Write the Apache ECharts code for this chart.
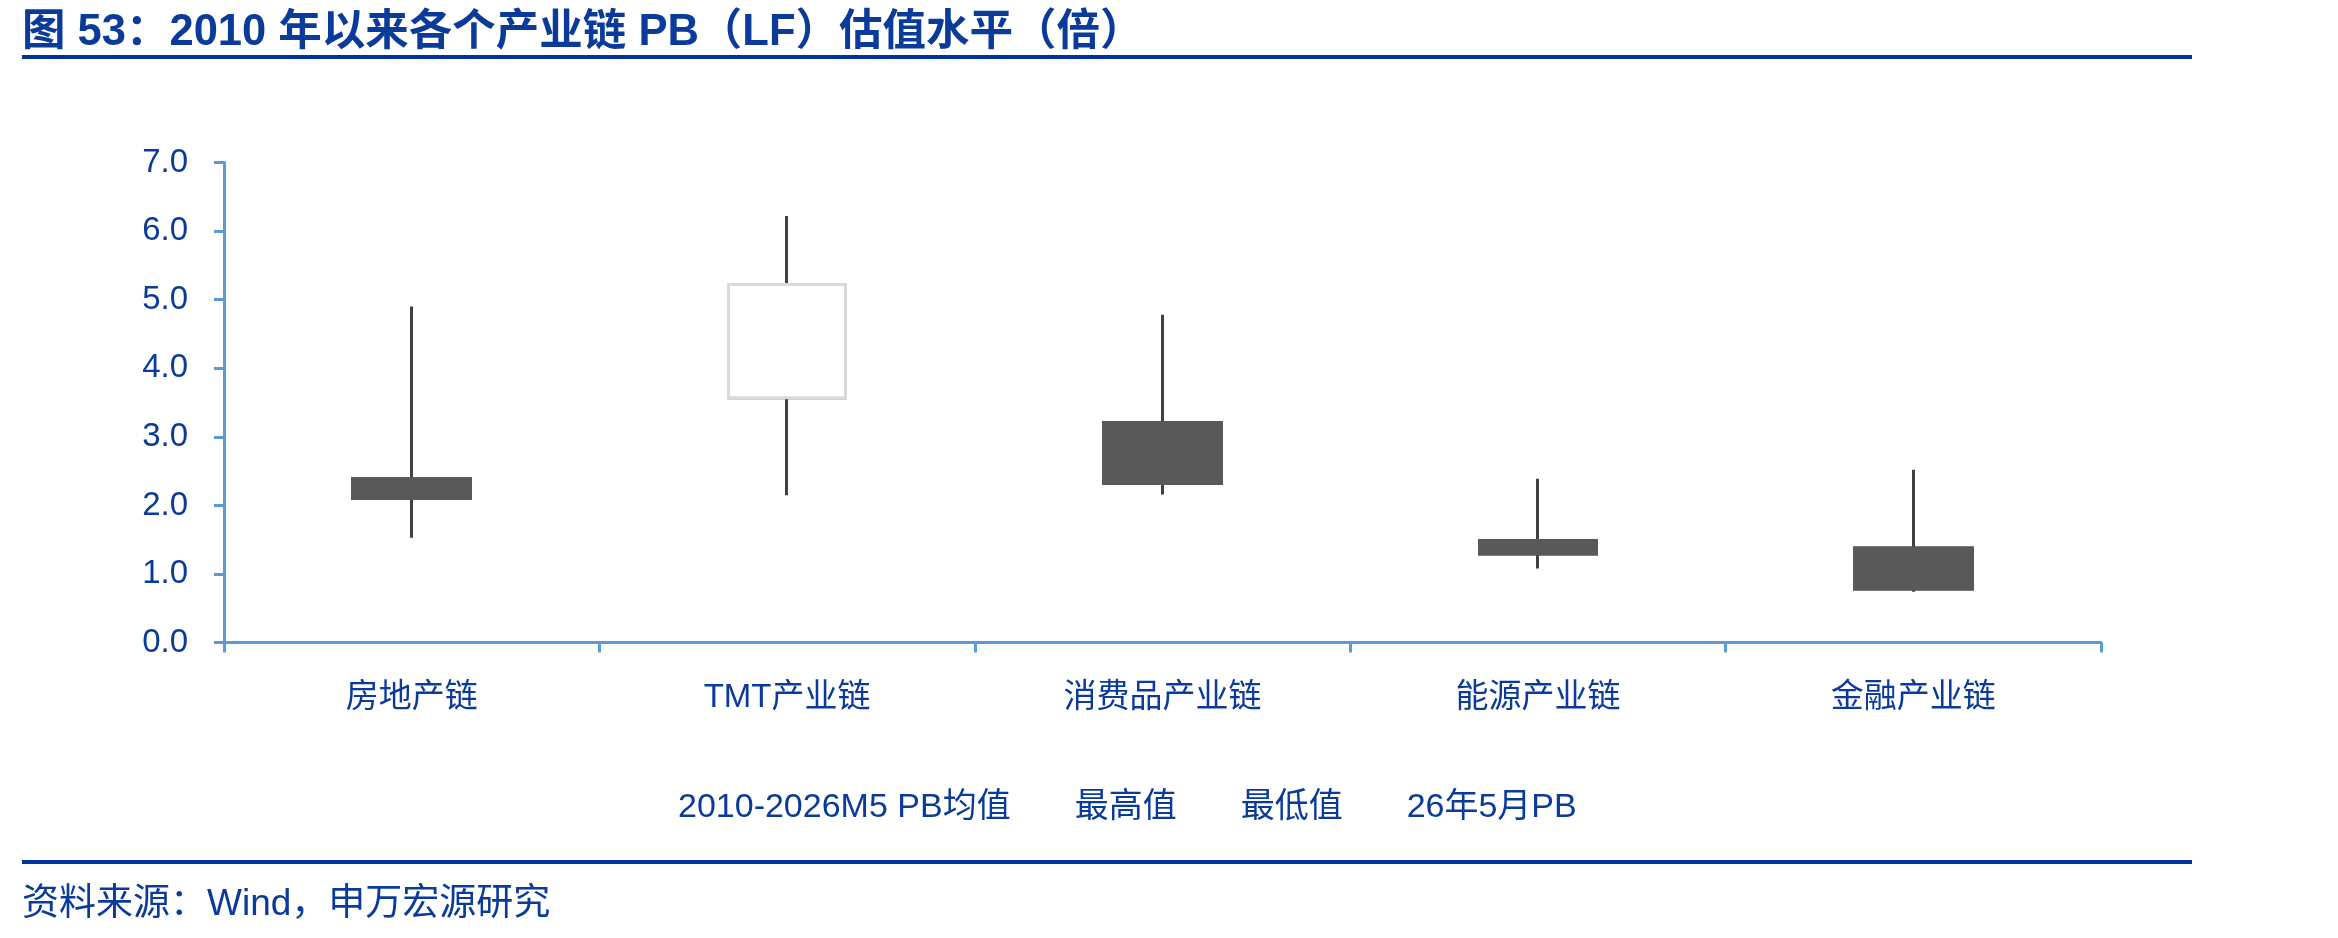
<!DOCTYPE html>
<html>
<head>
<meta charset="utf-8">
<script src="https://cdn.jsdelivr.net/npm/echarts@6/dist/echarts.min.js"></script>
<style>
  html, body { margin: 0; padding: 0; background: #fff; }
  #main { width: 2338px; height: 938px; }
</style>
</head>
<body>
<div id="main"></div>
<script>
var myChart = echarts.init(document.getElementById('main'));

const FONT = '"Liberation Sans", "Noto Sans CJK SC", sans-serif';
const BLUE = '#0a3a9a';
const AXIS = '#5b9bd5';

// values
const categories = ['房地产链', 'TMT产业链', '消费品产业链', '能源产业链', '金融产业链'];
const meanPB = [2.39, 3.57, 3.21, 1.49, 1.38];    // 2010-2026M5 PB均值 (open)
const maxPB = [4.90, 6.22, 4.78, 2.39, 2.52];     // 最高值
const minPB = [1.53, 2.15, 2.16, 1.08, 0.74];     // 最低值
const latestPB = [2.10, 5.22, 2.32, 1.29, 0.78];  // 26年5月PB (close)
const legendNames = ['2010-2026M5 PB均值', '最高值', '最低值', '26年5月PB'];

// full candles: [open, close, low, high] -> used for the dark wicks
const wickData = categories.map((c, i) => [meanPB[i], latestPB[i], minPB[i], maxPB[i]]);
// box-only candles drawn on top so the up box keeps its light border
const boxData = categories.map((c, i) => [
    meanPB[i], latestPB[i],
    Math.min(meanPB[i], latestPB[i]), Math.max(meanPB[i], latestPB[i])
]);

let option = {
    animation: false,
    backgroundColor: '#ffffff',
    textStyle: {fontFamily: FONT},
    title: {
        text: '图 53：2010 年以来各个产业链 PB（LF）估值水平（倍）',
        left: 17,
        top: 6,
        textStyle: {fontFamily: FONT, fontSize: 43.5, fontWeight: 'bold', color: BLUE}
    },
    legend: {
        data: legendNames,
        left: 667,
        top: 786,
        itemGap: 58,
        itemWidth: 0,
        itemHeight: 0,
        itemStyle: {opacity: 0},
        lineStyle: {opacity: 0},
        selectedMode: false,
        textStyle: {fontFamily: FONT, fontSize: 34, color: BLUE}
    },
    grid: {left: 224, right: 237, top: 162.5, bottom: 295.4},
    xAxis: {
        type: 'category',
        data: categories,
        axisLine: {lineStyle: {color: AXIS, width: 3}},
        axisTick: {show: true, length: 10, lineStyle: {color: AXIS, width: 3}},
        axisLabel: {color: BLUE, fontSize: 33, margin: 39, fontFamily: FONT},
        splitLine: {show: false}
    },
    yAxis: {
        type: 'value',
        min: 0,
        max: 7,
        interval: 1,
        axisLine: {show: true, lineStyle: {color: AXIS, width: 3}},
        axisTick: {show: true, length: 10, lineStyle: {color: AXIS, width: 3}},
        axisLabel: {
            color: BLUE, fontSize: 33, margin: 36, fontFamily: FONT,
            formatter: function (v) { return v.toFixed(1); }
        },
        splitLine: {show: false}
    },
    graphic: [
        {type: 'rect', shape: {x: 22, y: 55, width: 2170, height: 4}, style: {fill: '#0033a0'}},
        {type: 'rect', shape: {x: 22, y: 860, width: 2170, height: 4}, style: {fill: '#0033a0'}},
        {
            type: 'text', left: 22, top: 886,
            style: {text: '资料来源：Wind，申万宏源研究', fill: BLUE, font: '37px ' + FONT}
        }
    ],
    series: [
        {
            type: 'candlestick',
            data: wickData,
            barWidth: 118,
            itemStyle: {
                color: '#ffffff', color0: '#595959',
                borderColor: '#404040', borderColor0: '#404040', borderWidth: 3
            }
        },
        {
            type: 'candlestick',
            data: boxData,
            barWidth: 118,
            itemStyle: {
                color: '#ffffff', color0: '#595959',
                borderColor: '#d9d9d9', borderColor0: '#595959', borderWidth: 3
            }
        }
    ].concat(legendNames.map(n => ({type: 'line', name: n, data: [], symbol: 'none'})))
};

myChart.setOption(option);
</script>
</body>
</html>
